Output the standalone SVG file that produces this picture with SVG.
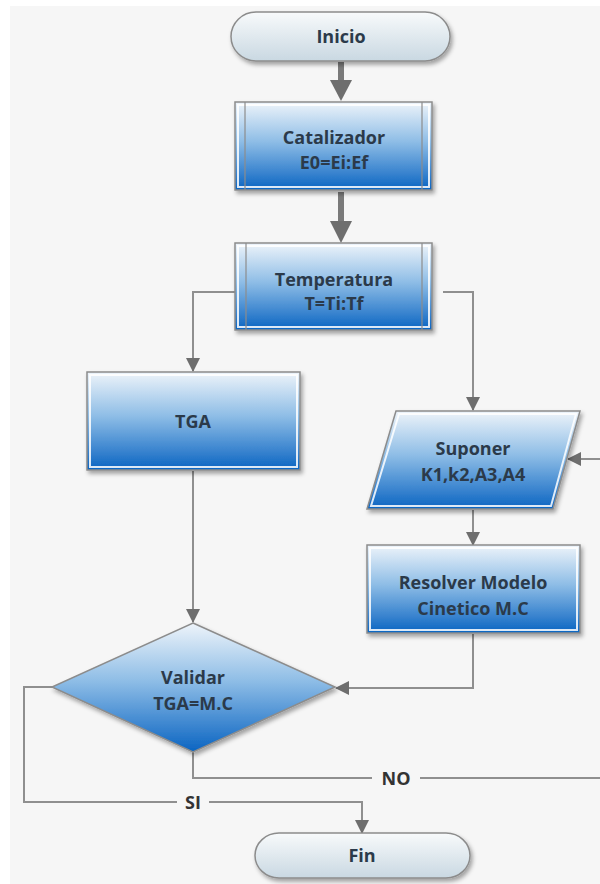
<svg xmlns="http://www.w3.org/2000/svg" width="600" height="884" viewBox="0 0 600 884">
<style>
.t{font-family:"Open Sans","Noto Sans","DejaVu Sans",sans-serif;font-weight:bold;font-size:18px;fill:#2b3a4a;text-anchor:middle}
.box{fill:url(#blue);stroke:#8c8c8c;stroke-width:1.5;filter:url(#sh)}
.inner{fill:none;stroke:#ffffff;stroke-width:2;opacity:0.85}
.sep{stroke:#8c8c8c;stroke-width:1.2}
.term{fill:url(#grey);stroke:#8c8c8c;stroke-width:1.5;filter:url(#sh)}
.c{fill:none;stroke:#8f8f8f;stroke-width:2}
.ct{fill:none;stroke:#7a7a7a;stroke-width:6}
.lbl{font-family:"Open Sans","Noto Sans","DejaVu Sans",sans-serif;font-weight:bold;font-size:18px;fill:#333;text-anchor:middle}
</style>
<defs>
<linearGradient id="blue" x1="0" y1="0" x2="0" y2="1">
<stop offset="0" stop-color="#eef4fa"/>
<stop offset="0.45" stop-color="#8ebde6"/>
<stop offset="1" stop-color="#0a64c2"/>
</linearGradient>
<linearGradient id="grey" x1="0" y1="0" x2="0" y2="1">
<stop offset="0" stop-color="#f8fafb"/>
<stop offset="1" stop-color="#c9d8e2"/>
</linearGradient>
<filter id="sh" x="-10%" y="-10%" width="125%" height="130%">
<feDropShadow dx="2" dy="3" stdDeviation="2" flood-color="#000" flood-opacity="0.35"/>
</filter>
<marker id="a" markerWidth="15" markerHeight="15" refX="13" refY="7" orient="auto" markerUnits="userSpaceOnUse">
<path d="M0,0 L14,7 L0,14 Z" fill="#6e6e6e"/>
</marker>
</defs>
<rect x="0" y="0" width="600" height="884" fill="#f6f6f6"/>
<rect x="0" y="0" width="10" height="884" fill="#ffffff"/>
<rect x="0" y="0" width="600" height="6" fill="#ffffff"/>

<g id="connectors">
<path class="ct" d="M341,62 V82" />
<path d="M330,80 L352,80 L341,101 Z" fill="#6e6e6e"/>
<path class="ct" d="M341,192 V223" />
<path d="M330,221 L352,221 L341,243 Z" fill="#6e6e6e"/>
<path class="c" d="M235,292 H193 V371" marker-end="url(#a)"/>
<path class="c" d="M443,292 H473 V410" marker-end="url(#a)"/>
<path class="c" d="M600,459 H568" marker-end="url(#a)"/>
<path class="c" d="M473,510 V545" marker-end="url(#a)"/>
<path class="c" d="M473,634 V688 H336" marker-end="url(#a)"/>
<path class="c" d="M193,471 V622" marker-end="url(#a)"/>
<path class="c" d="M193,752 V778 H372 M420,778 H600"/>
<text class="lbl" x="396" y="785">NO</text>
<path class="c" d="M52,687 H24 V802 H177 M209,802 H362 V833" marker-end="url(#a)"/>
<text class="lbl" x="193" y="809">SI</text>
</g>

<g id="inicio">
<rect class="term" x="231" y="12" width="219" height="49" rx="25" ry="24.5"/>
<text class="t" x="341" y="43">Inicio</text>
</g>

<g id="catalizador">
<rect class="box" x="235" y="102" width="197" height="88"/>
<rect class="inner" x="238" y="105" width="191" height="82"/>
<line class="sep" x1="245" y1="102" x2="245" y2="190"/>
<line class="sep" x1="422" y1="102" x2="422" y2="190"/>
<text class="t" x="334" y="144">Catalizador</text>
<text class="t" x="334" y="169">E0=Ei:Ef</text>
</g>

<g id="temperatura">
<rect class="box" x="235" y="243" width="197" height="87"/>
<rect class="inner" x="238" y="246" width="191" height="81"/>
<line class="sep" x1="246" y1="243" x2="246" y2="330"/>
<line class="sep" x1="422" y1="243" x2="422" y2="330"/>
<text class="t" x="334" y="286">Temperatura</text>
<text class="t" x="334" y="310">T=Ti:Tf</text>
</g>

<g id="tga">
<rect class="box" x="87" y="372" width="213" height="98"/>
<rect class="inner" x="90" y="375" width="207" height="92"/>
<text class="t" x="193" y="428">TGA</text>
</g>

<g id="suponer">
<polygon class="box" points="396,411 580,411 553,509 367,509"/>
<polygon class="inner" points="399,414 576,414 551,506 371,506"/>
<text class="t" x="473" y="455">Suponer</text>
<text class="t" x="473" y="481">K1,k2,A3,A4</text>
</g>

<g id="resolver">
<rect class="box" x="367" y="545" width="213" height="88"/>
<rect class="inner" x="370" y="548" width="207" height="82"/>
<text class="t" x="473" y="589">Resolver Modelo</text>
<text class="t" x="473" y="615">Cinetico M.C</text>
</g>

<g id="validar">
<polygon class="box" points="193,623 335,687 193,752 52,687"/>
<text class="t" x="193" y="684">Validar</text>
<text class="t" x="193" y="710">TGA=M.C</text>
</g>

<g id="fin">
<rect class="term" x="255" y="833" width="215" height="45" rx="24" ry="22.5"/>
<text class="t" x="362" y="862">Fin</text>
</g>
</svg>
